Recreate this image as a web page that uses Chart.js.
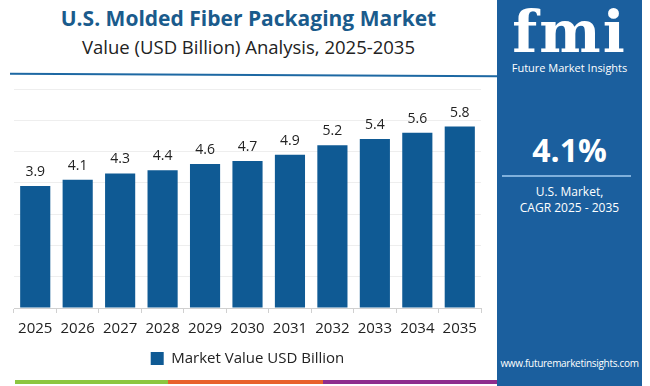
<!DOCTYPE html>
<html>
<head>
<meta charset="utf-8">
<script src="https://cdn.jsdelivr.net/npm/chart.js@4/dist/chart.umd.min.js"></script>
<style>
  html, body { margin: 0; padding: 0; background: #fff; }
  body { width: 650px; height: 386px; position: relative; overflow: hidden; font-family: "Open Sans", sans-serif; }
  .title { position: absolute; left: 0; width: 497px; text-align: center; }
  #t1 { top: 4px; font: 700 21px "Open Sans", sans-serif; color: #1a5b8c; }
  #t2 { top: 34px; font: 400 18.5px "Open Sans", sans-serif; color: #222; }
  #rule { position: absolute; left: 10px; top: 74px; width: 487px; height: 2px; background: #1d68a3; transform: rotate(0.3deg); }
  #wrap { position: absolute; left: 0; top: 80px; width: 497px; height: 296px; }
  #panel { position: absolute; left: 497px; top: 0; width: 145px; height: 386px; background: #1b5f9e; color: #fff; text-align: center; }
  #logo { margin-top: 2px; font: 700 58px "DejaVu Serif", serif; letter-spacing: 2px; line-height: 60px; }
  #brand { font-size: 11px; margin-top: -2px; }
  #cagr { position: absolute; top: 128px; width: 100%; font: 700 32px "Open Sans", sans-serif; }
  #hr { position: absolute; top: 175px; left: 5px; width: 129px; height: 2px; background: #7fb0dc; }
  #lbl { position: absolute; top: 184px; width: 100%; font-size: 12px; line-height: 16px; }
  #url { position: absolute; top: 356px; width: 100%; font-size: 10px; letter-spacing: -0.3px; }
  .stripe { position: absolute; top: 380px; height: 4px; }
</style>
</head>
<body>
<div class="title" id="t1">U.S. Molded Fiber Packaging Market</div>
<div class="title" id="t2">Value (USD Billion) Analysis, 2025-2035</div>
<div id="rule"></div>
<div id="wrap"><canvas id="myChart"></canvas></div>
<div id="panel">
  <div id="logo">fmi</div>
  <div id="brand">Future Market Insights</div>
  <div id="cagr">4.1%</div>
  <div id="hr"></div>
  <div id="lbl">U.S. Market,<br>CAGR 2025 - 2035</div>
  <div id="url">www.futuremarketinsights.com</div>
</div>
<div class="stripe" style="left:15px;width:153px;background:#8cc63f"></div>
<div class="stripe" style="left:168px;width:155px;background:#e8622c"></div>
<div class="stripe" style="left:323px;width:174px;background:#8e2e8e"></div>
<script>
const YEARS = ['2025', '2026', '2027', '2028', '2029', '2030', '2031', '2032', '2033', '2034', '2035'];
const MARKET_VALUE = [3.9, 4.1, 4.3, 4.4, 4.6, 4.7, 4.9, 5.2, 5.4, 5.6, 5.8];
const SERIES_LABEL = 'Market Value USD Billion';
const BAR_COLOR = '#0f5a94';

// value above each bar
const valueLabels = {
  id: 'valueLabels',
  afterDatasetsDraw(chart) {
    const ctx = chart.ctx;
    const meta = chart.getDatasetMeta(0);
    ctx.save();
    ctx.font = '14px "Open Sans", sans-serif';
    ctx.fillStyle = '#222';
    ctx.textAlign = 'center';
    ctx.textBaseline = 'bottom';
    meta.data.forEach((bar, i) => {
      ctx.fillText(MARKET_VALUE[i].toFixed(1), bar.x, bar.y - 7);
    });
    ctx.restore();
  }
};

new Chart(document.getElementById('myChart'), {
  type: 'bar',
  data: {
    labels: YEARS,
    datasets: [{
      label: SERIES_LABEL,
      data: MARKET_VALUE,
      backgroundColor: BAR_COLOR,
      barPercentage: 0.71,
      categoryPercentage: 1
    }]
  },
  options: {
    responsive: true,
    maintainAspectRatio: false,
    animation: false,
    layout: { padding: { top: 9, left: 14, right: 16, bottom: 0 } },
    scales: {
      x: {
        grid: { drawOnChartArea: false, drawTicks: true, tickLength: 5, color: '#d0d0d0' },
        border: { color: '#d0d0d0' },
        ticks: { color: '#222', font: { size: 15, family: '"Open Sans", sans-serif' }, padding: 7 }
      },
      y: {
        min: 0,
        max: 7,
        ticks: { display: false, stepSize: 1 },
        grid: { color: '#eeeeee', drawTicks: false },
        border: { display: false }
      }
    },
    plugins: {
      legend: {
        position: 'bottom',
        labels: {
          boxWidth: 13, boxHeight: 13, color: '#222',
          font: { size: 15, family: '"Open Sans", sans-serif' },
          padding: 6
        }
      },
      tooltip: { enabled: false }
    }
  },
  plugins: [valueLabels]
});
</script>
</body>
</html>
